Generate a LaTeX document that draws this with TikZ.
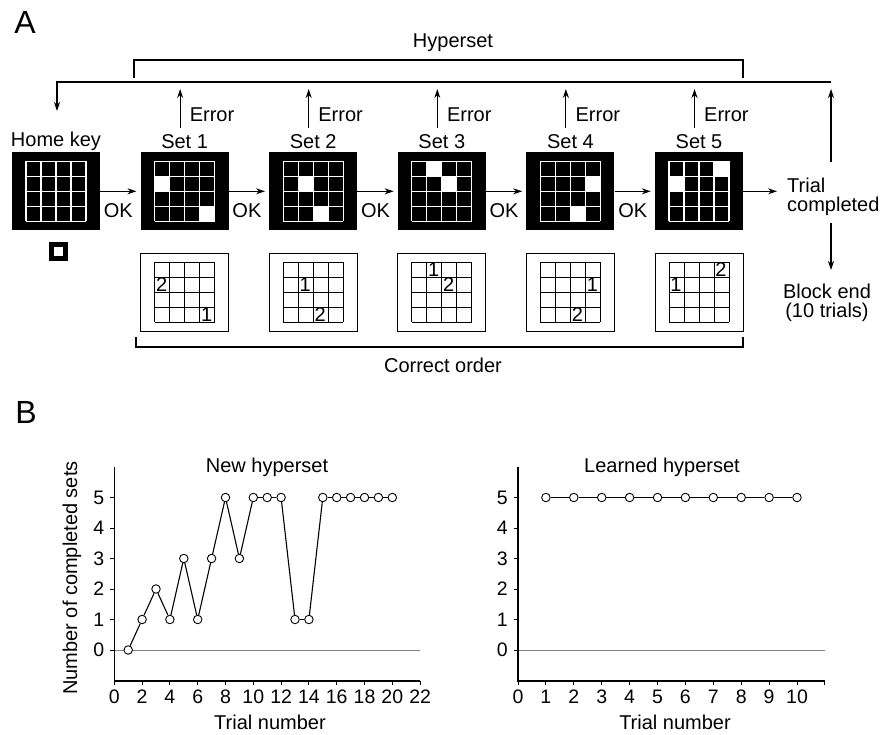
\documentclass[tikz,border=0pt]{standalone}
\usepackage{fontspec}
\setmainfont{Liberation Sans}
\usetikzlibrary{arrows.meta,calc}
\begin{document}
\begin{tikzpicture}[x=1pt,y=-1pt,
  txt/.style={font=\fontsize{20}{19}\selectfont, inner sep=0pt},
  big/.style={font=\fontsize{32}{32}\selectfont, inner sep=0pt},
  ticklbl/.style={font=\fontsize{19.5}{20}\selectfont, inner sep=0pt},
  arr/.style={-{Stealth[length=9pt,width=6pt]}, line width=1.1pt},
  ln/.style={line width=1.1pt},
  blackbox/.style={fill=black, draw=none, minimum width=88pt, minimum height=78pt, inner sep=0pt},
  whitebox/.style={draw=black, line width=0.9pt, fill=white, minimum width=88pt, minimum height=78pt, inner sep=0pt},
  wgrid/.style={white, line width=1.3pt},
  bgrid/.style={black, line width=0.8pt},
  dot/.style={circle, draw=black, fill=white, line width=0.9pt, minimum size=8.5pt, inner sep=0pt},
  dataline/.style={black, line width=1.1pt},
  axisline/.style={black, line width=1.2pt},
  zeroline/.style={gray, line width=0.8pt},
]
\useasboundingbox (0,0) rectangle (880,734);

% panel letters
\node[big] (A) at (25,22) {A};
\node[big] (B) at (26,412) {B};

% home key display
\node[blackbox] (s0) at (56,191.3) {};
\foreach \t in {0,15,30,45,60} {
  \draw[wgrid] ({56-30+\t},161.3) -- ++(0,60);
  \draw[wgrid] (26,{161.3+\t}) -- ++(60,0);
}
\node[txt] (t0) at (56,141.5) {Home key};
\node[fill=black, minimum size=19pt, inner sep=0pt] (key) at (58,251) {};
\node[fill=white, minimum size=9pt, inner sep=0pt] (keyin) at (key) {};

% the five sets: cell of target 1 (col/row) and cell of target 2 (col/row)
\foreach \k/\oa/\ob/\ta/\tb in {1/4/4/1/2, 2/2/2/3/4, 3/2/1/3/2, 4/4/2/3/4, 5/1/2/4/1} {
  \pgfmathsetmacro\cx{56+128.6*\k}
  \node[blackbox] (s\k) at (\cx,191.3) {};
  \fill[white] ({\cx-30+15*(\oa-1)},{161.3+15*(\ob-1)}) rectangle ++(15,15);
  \fill[white] ({\cx-30+15*(\ta-1)},{161.3+15*(\tb-1)}) rectangle ++(15,15);
  \foreach \t in {0,15,30,45,60} {
    \draw[wgrid] ({\cx-30+\t},161.3) -- ++(0,60);
    \draw[wgrid] ({\cx-30},{161.3+\t}) -- ++(60,0);
  }
  \node[txt] (t\k) at (\cx,141.5) {Set \k};
  % order panel
  \node[whitebox] (l\k) at (\cx,292.2) {};
  \foreach \t in {0,15,30,45,60} {
    \draw[bgrid] ({\cx-30+\t},262.2) -- ++(0,60);
    \draw[bgrid] ({\cx-30},{262.2+\t}) -- ++(60,0);
  }
  \node[txt] (one\k) at ({\cx-30+15*(\oa-1)+7},{262.2+15*(\ob-1)+7.5}) {1};
  \node[txt] (two\k) at ({\cx-30+15*(\ta-1)+7},{262.2+15*(\tb-1)+7.5}) {2};
  % error exit
  \coordinate (eb\k) at ({\cx-4.5},128);
  \coordinate (et\k) at ({\cx-4.5},89);
  \draw[arr] (eb\k) -- (et\k);
  \node[txt, anchor=west] (err\k) at ({\cx+5},115) {Error};
}

% OK transitions
\foreach \k [evaluate=\k as \p using int(\k-1)] in {1,...,5} {
  \draw[arr] (s\p.east) -- ([xshift=-4pt]s\k.west);
  \node[txt] (ok\k) at ($(s\p.east)!0.45!(s\k.west)+(0,19)$) {OK};
}

% trial completed and block end
\node[txt, align=left, anchor=west] (tc) at (787,196.5) {Trial\\completed};
\coordinate (tcin) at (777,191.3);
\draw[arr] (s5.east) -- (tcin);
\coordinate (up0) at (831,162);
\coordinate (up1) at (831,89);
\draw[arr] (up0) -- (up1);
\coordinate (fbR) at (831,82);
\coordinate (fbL) at (57,82);
\coordinate (fbD) at (57,111);
\draw[arr] (fbR) -- (fbL) -- (fbD);
\coordinate (dn0) at (831,223);
\coordinate (dn1) at (831,270);
\draw[arr] (dn0) -- (dn1);
\node[txt, align=center] (be) at (827,303) {Block end\\(10 trials)};

% brackets
\draw[ln] (134,78) -- (134,60) -- (743,60) -- (743,78);
\node[txt] (hyp) at (453,43) {Hyperset};
\draw[ln] (136,337) -- (136,347) -- (743,347) -- (743,337);
\node[txt] (co) at (443,365) {Correct order};

% ---------- panel B, new hyperset ----------
\node[txt] (tl) at (267,467) {New hyperset};
\node[txt] (xl) at (270,722) {Trial number};
\node[txt, rotate=90] (yl) at (72,578) {Number of completed sets};
\begin{scope}[shift={(114.3,650)}, x=13.9pt, y=30.5pt]
  \draw[zeroline] (0,0) -- (22,0);
  \draw[axisline] (0,6.01) -- (0,-1.016) -- (22,-1.016);
  \foreach \v in {0,...,5} {
    \draw[line width=1pt] (0,\v) -- ++(-4pt,0);
    \node[ticklbl, anchor=east] at ([xshift=-10pt]0,\v) {\v};
  }
  \foreach \n in {0,2,...,22} {
    \draw[line width=1pt] (\n,-1.016) -- ++(0,-4pt);
    \node[ticklbl] at ([yshift=-16pt]\n,-1.016) {\n};
  }
  \foreach \v [count=\n] in {0,1,2,1,3,1,3,5,3,5,5,5,1,1,5,5,5,5,5,5}
    \node[dot] (a\n) at (\n,\v) {};
  \foreach \n [evaluate=\n as \m using int(\n+1)] in {1,...,19}
    \draw[dataline] (a\n) -- (a\m);
\end{scope}

% ---------- panel B, learned hyperset ----------
\node[txt] (tr) at (662,467) {Learned hyperset};
\node[txt] (xr) at (675,722) {Trial number};
\begin{scope}[shift={(518,650)}, x=27.9pt, y=30.5pt]
  \draw[zeroline] (0,0) -- (11,0);
  \draw[axisline] (0,6.01) -- (0,-1.016) -- (11,-1.016);
  \foreach \v in {0,...,5} {
    \draw[line width=1pt] (0,\v) -- ++(-4pt,0);
    \node[ticklbl, anchor=east] at ([xshift=-10pt]0,\v) {\v};
  }
  \foreach \n in {0,...,11}
    \draw[line width=1pt] (\n,-1.016) -- ++(0,-4pt);
  \foreach \n in {0,...,10}
    \node[ticklbl] at ([yshift=-16pt]\n,-1.016) {\n};
  \foreach \n in {1,...,10}
    \node[dot] (b\n) at (\n,5) {};
  \foreach \n [evaluate=\n as \m using int(\n+1)] in {1,...,9}
    \draw[dataline] (b\n) -- (b\m);
\end{scope}
\end{tikzpicture}
\end{document}
